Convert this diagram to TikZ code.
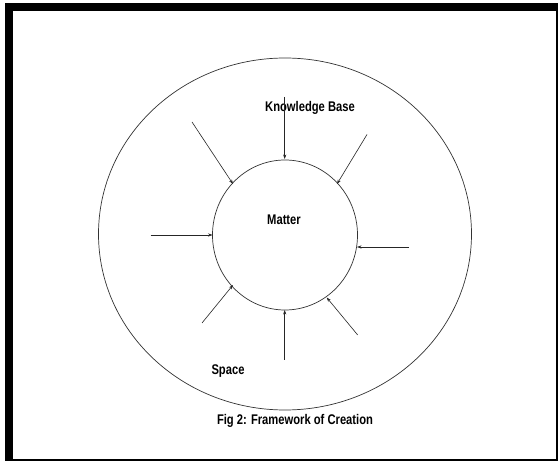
\documentclass[tikz,border=0pt]{standalone}
\usepackage{fontspec}
\setmainfont{Liberation Sans}
\usetikzlibrary{arrows.meta,shapes.geometric}
\tikzset{
  ring/.style={draw=black!80, line width=0.7pt, ellipse, inner sep=0pt, outer sep=0pt},
  ray/.style={draw=black!85, line width=0.6pt, -{Stealth[length=4.5pt,width=3.2pt]}},
  lbl/.style={font=\bfseries\fontsize{14}{16}\selectfont, xscale=0.8, inner sep=0pt},
  framebar/.style={fill=black, draw=none}
}
\begin{document}
\begin{tikzpicture}[x=1pt,y=-1pt]
\useasboundingbox (0,0) rectangle (558,462);
\fill[white] (0,0) rectangle (558,462);
% frame
\path[framebar] (5,3) rectangle (13,461);
\path[framebar] (5,3) rectangle (558,11);
\path[framebar] (556,3) rectangle (558,461);
\path[framebar] (5,459) rectangle (558,461);
% rings
\node[ring, minimum width=373pt, minimum height=352pt] (outer) at (285,234) {};
\node[ring, minimum width=145pt, minimum height=150pt] (inner) at (285,235) {};
% labels
\node[lbl] (kb) at (310,108) {Knowledge Base};
\node[lbl] (matter) at (284,219.5) {Matter};
\node[lbl] (space) at (228,371) {Space};
\node[lbl] (fig) at (295,421) {Fig 2: Framework of Creation};
% arrows
\coordinate (s1) at (284.7,97);   \coordinate (e1) at (284.7,159);
\coordinate (s2) at (192,122);    \coordinate (e2) at (233,184);
\coordinate (s3) at (367,134.5);  \coordinate (e3) at (337,184);
\coordinate (s4) at (150.5,235);  \coordinate (e4) at (212.5,235);
\coordinate (s5) at (409,247);    \coordinate (e5) at (357,247);
\coordinate (s6) at (202,323);    \coordinate (e6) at (233,285);
\coordinate (s7) at (284.7,360);  \coordinate (e7) at (284.7,310);
\coordinate (s8) at (357.7,335);  \coordinate (e8) at (326.7,297.5);
\foreach \i in {1,...,8}{\draw[ray] (s\i) -- (e\i);}
\end{tikzpicture}
\end{document}
